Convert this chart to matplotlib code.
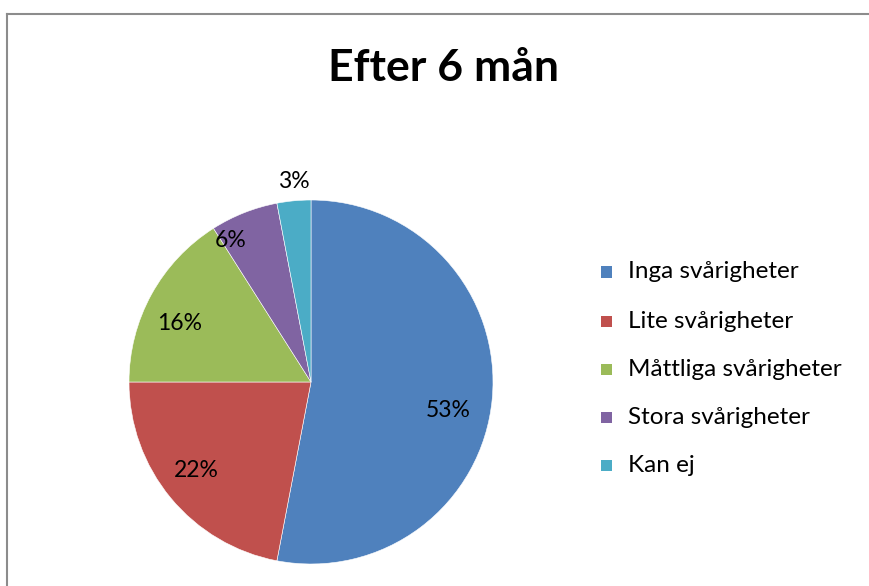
import matplotlib
matplotlib.use("Agg")
import matplotlib.pyplot as plt
from matplotlib.lines import Line2D
from matplotlib.patches import Rectangle

categories = ["Inga svårigheter", "Lite svårigheter", "Måttliga svårigheter",
              "Stora svårigheter", "Kan ej"]
values = [53, 22, 16, 6, 3]
labels = ["53%", "22%", "16%", "6%", "3%"]
title = "Efter 6 mån"

colors = ["#4F81BD", "#C0504D", "#9BBB59", "#8064A2", "#4BACC6"]
# label positions relative to pie centre, in radius units
label_pos = [(0.753, -0.159), (-0.632, -0.484), (-0.720, 0.324),
             (-0.440, 0.775), (-0.093, 1.104)]

W, H = 869, 586
fig = plt.figure(figsize=(W / 100, H / 100), dpi=100)
font = "Lato"

cx, cy, R = 311, 382, 182
ax = fig.add_axes([(cx - R) / W, (H - cy - R) / H, 2 * R / W, 2 * R / H])
ax.pie(values, colors=colors, startangle=90, counterclock=False, radius=1,
       wedgeprops=dict(edgecolor="white", linewidth=0.4))
ax.set_xlim(-1, 1)
ax.set_ylim(-1, 1)
ax.set_aspect("auto")
ax.axis("off")
for (x, y), t in zip(label_pos, labels):
    ax.text(x, y, t, ha="center", va="center", fontsize=16.5, family=font,
            color="#000000", clip_on=False)

fig.text(443 / W, 1 - 68 / H, title, ha="center", va="center", fontsize=32,
         fontweight="bold", family=font)

# legend
ys = [272, 321, 369, 417, 465]
for c, name, y in zip(colors, categories, ys):
    fig.add_artist(Rectangle((601 / W, 1 - (y + 5.5) / H), 11 / W, 11 / H,
                             transform=fig.transFigure, facecolor=c,
                             edgecolor="none"))
    fig.text(628 / W, 1 - y / H, name, ha="left", va="center", fontsize=17.5,
             family=font)

# border
bc = "#8C8C8C"
fig.add_artist(Line2D([7 / W, 1.0], [1 - 14 / H, 1 - 14 / H],
                      transform=fig.transFigure, color=bc, lw=1.5))
fig.add_artist(Line2D([7 / W, 7 / W], [1 - 14 / H, 0.0],
                      transform=fig.transFigure, color=bc, lw=1.5))

fig.savefig("out.png", dpi=100)
